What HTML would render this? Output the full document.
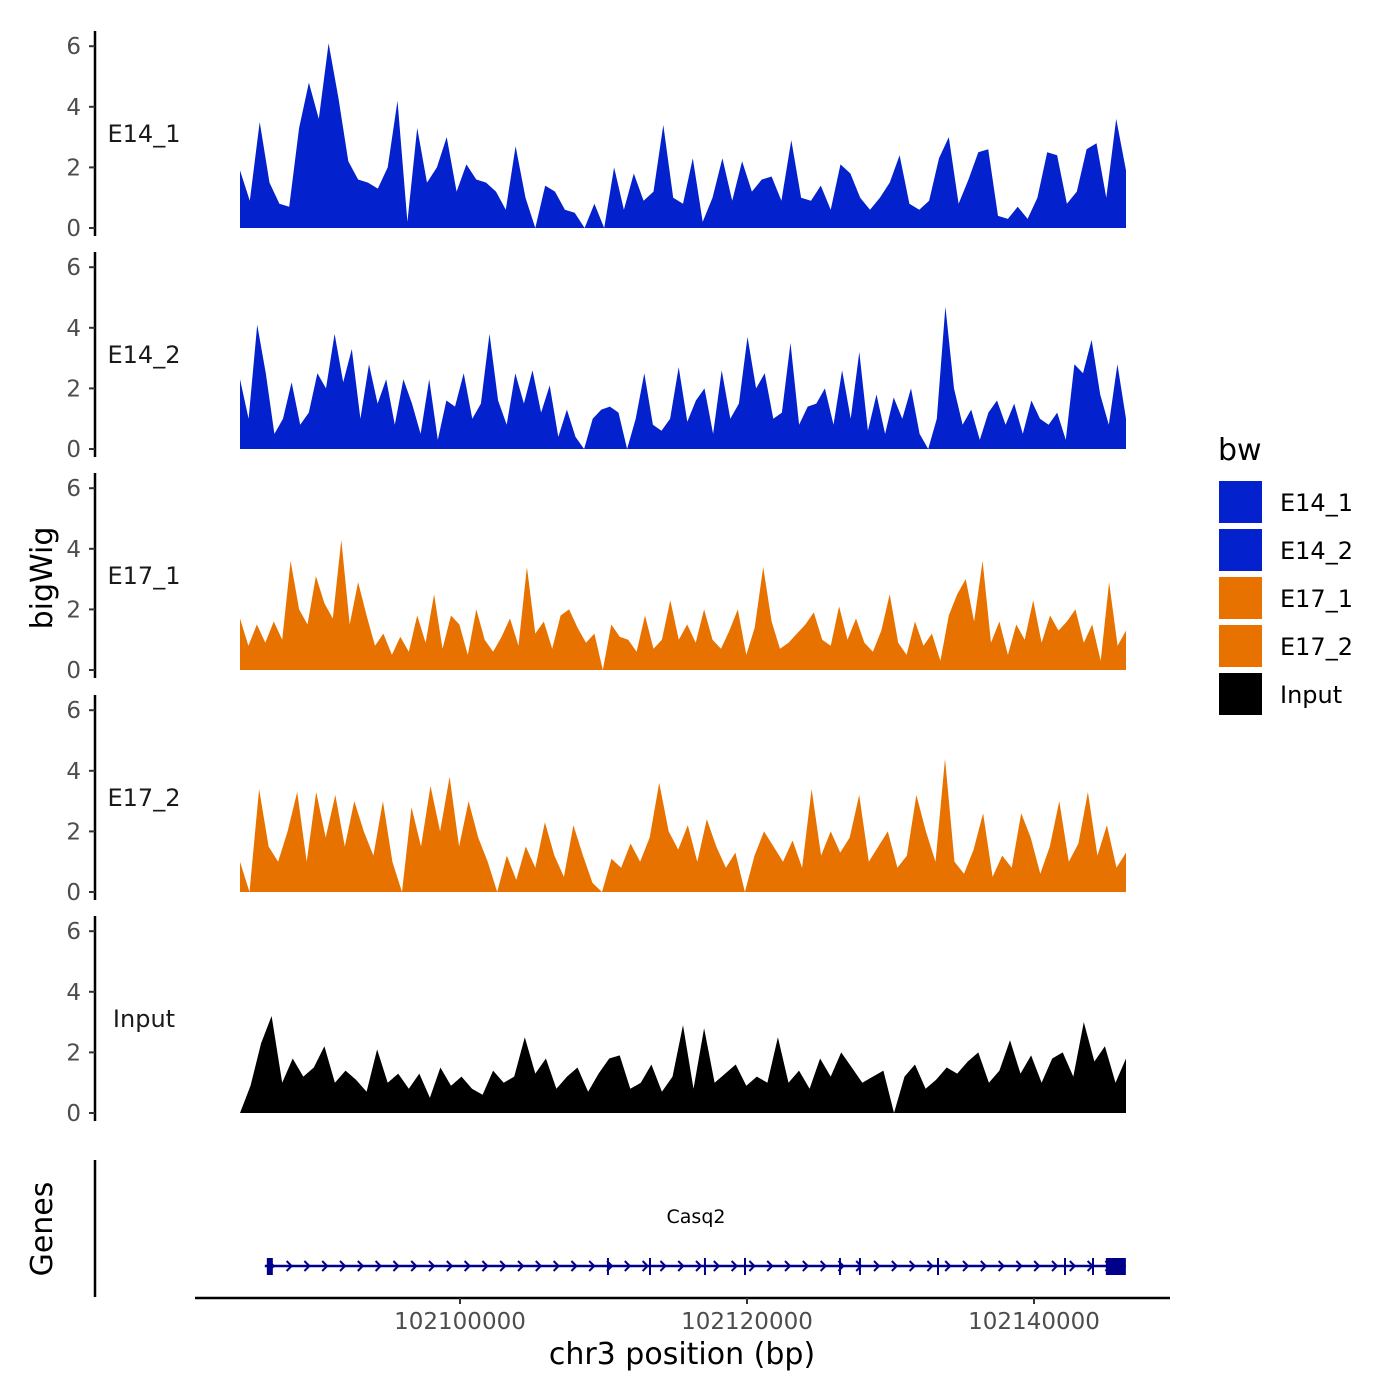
<!DOCTYPE html>
<html><head><meta charset="utf-8">
<style>
html,body{margin:0;padding:0;background:#fff;}
svg{display:block;font-family:"DejaVu Sans","Liberation Sans",sans-serif;}
</style></head>
<body>
<svg id="chart" width="1400" height="1400" viewBox="0 0 1400 1400">
<g id="tracks"></g>
<g id="genes"></g>
<g id="xaxis"></g>
<g id="legend"></g>
</svg>
<script>
const trackNames = ["E14_1","E14_2","E17_1","E17_2","Input"];
const trackColors = ["#0321cc","#0321cc","#e87200","#e87200","#000000"];
const yTicks = [0,2,4,6];
const xTicks = [102100000,102120000,102140000];
const regionStart = 102084670;
const regionEnd = 102146410;
const valsE14_1 = [1.9,0.9,3.5,1.5,0.8,0.7,3.3,4.8,3.6,6.1,4.3,2.2,1.6,1.5,1.3,2.0,4.2,0.2,3.3,1.5,2.0,3.0,1.2,2.1,1.6,1.5,1.2,0.6,2.7,1.0,0.0,1.4,1.2,0.6,0.5,0.0,0.8,0.0,2.0,0.6,1.8,0.9,1.2,3.4,1.0,0.8,2.3,0.2,1.0,2.3,0.9,2.2,1.2,1.6,1.7,0.9,2.9,1.0,0.9,1.4,0.6,2.1,1.8,1.0,0.6,1.0,1.5,2.4,0.8,0.6,0.9,2.3,3.0,0.8,1.6,2.5,2.6,0.4,0.3,0.7,0.3,1.0,2.5,2.4,0.8,1.2,2.6,2.8,1.0,3.6,1.9];
const valsE14_2 = [2.3,1.0,4.1,2.5,0.5,1.0,2.2,0.8,1.2,2.5,2.0,3.8,2.2,3.3,1.0,2.8,1.5,2.3,0.8,2.3,1.5,0.5,2.3,0.3,1.6,1.4,2.5,1.0,1.5,3.8,1.6,0.8,2.5,1.5,2.6,1.2,2.1,0.4,1.3,0.4,0.0,1.0,1.3,1.4,1.2,0.0,1.0,2.5,0.8,0.6,1.0,2.7,0.9,1.6,2.0,0.5,2.6,1.0,1.5,3.7,2.0,2.5,1.0,1.2,3.5,0.8,1.4,1.5,2.0,0.8,2.6,1.0,3.2,0.6,1.8,0.5,1.7,1.0,2.0,0.5,0.0,1.0,4.7,2.0,0.8,1.3,0.3,1.2,1.6,0.8,1.5,0.5,1.6,1.0,0.8,1.2,0.3,2.8,2.5,3.6,1.8,0.8,2.8,1.0];
const valsE17_1 = [1.7,0.8,1.5,0.9,1.6,1.0,3.6,2.0,1.5,3.1,2.2,1.7,4.3,1.5,2.9,1.8,0.8,1.2,0.5,1.1,0.6,1.8,0.9,2.5,0.7,1.8,1.5,0.5,2.0,1.0,0.6,1.1,1.7,0.8,3.4,1.2,1.6,0.7,1.8,2.0,1.4,0.9,1.2,0.0,1.5,1.1,1.0,0.6,1.8,0.7,1.0,2.3,1.0,1.5,0.9,2.0,1.0,0.7,1.3,2.0,0.5,1.4,3.4,1.6,0.7,0.9,1.2,1.5,1.9,1.0,0.8,2.1,1.0,1.7,0.9,0.6,1.3,2.5,0.9,0.5,1.6,0.8,1.2,0.3,1.8,2.5,3.0,1.6,3.6,0.9,1.6,0.5,1.5,1.0,2.3,0.9,1.8,1.3,1.6,2.0,0.9,1.5,0.3,2.9,0.8,1.3];
const valsE17_2 = [1.0,0.0,3.4,1.5,1.0,2.0,3.3,1.0,3.3,1.8,3.2,1.5,3.0,2.0,1.2,3.0,1.0,0.0,2.8,1.5,3.5,2.0,3.8,1.5,3.0,1.8,1.0,0.0,1.2,0.4,1.5,0.8,2.3,1.2,0.5,2.2,1.2,0.3,0.0,1.1,0.8,1.6,1.0,1.8,3.6,2.0,1.4,2.2,1.0,2.4,1.5,0.8,1.3,0.0,1.2,2.0,1.5,1.0,1.7,0.8,3.4,1.2,2.0,1.3,1.8,3.2,1.0,1.5,2.0,0.8,1.2,3.2,2.0,1.0,4.4,1.0,0.6,1.4,2.6,0.5,1.2,0.8,2.6,1.8,0.6,1.5,3.0,1.0,1.6,3.3,1.2,2.2,0.8,1.3];
const valsInput = [0.0,0.9,2.3,3.2,1.0,1.8,1.2,1.5,2.2,1.0,1.4,1.1,0.7,2.1,1.0,1.3,0.8,1.3,0.5,1.5,0.9,1.2,0.8,0.6,1.4,1.0,1.2,2.5,1.3,1.8,0.8,1.2,1.5,0.7,1.3,1.8,1.9,0.8,1.0,1.6,0.7,1.2,2.9,0.8,2.8,1.0,1.3,1.6,0.9,1.2,1.0,2.5,1.0,1.4,0.8,1.8,1.2,2.0,1.5,1.0,1.2,1.4,0.0,1.2,1.6,0.8,1.1,1.5,1.3,1.7,2.0,1.0,1.4,2.4,1.3,1.9,1.0,1.8,2.0,1.2,3.0,1.7,2.2,1.0,1.8];
const exonPositions = [102110310,102113240,102117070,102119860,102126480,102127870,102133310,102142160,102144110];
const geneStart = 102086400, geneEnd = 102146400;

const NS = "http://www.w3.org/2000/svg";
function mk(tag, attrs, parent){const e=document.createElementNS(NS,tag);for(const k in attrs)e.setAttribute(k,attrs[k]);parent.appendChild(e);return e;}
function xScale(bp){return 240 + (bp - regionStart) * (886/(regionEnd-regionStart));}
const zeroY = [228,449,670,892,1113];
const pxPerUnit = 30.3;
function yScale(t,v){return zeroY[t] - v*pxPerUnit;}

const allVals = [valsE14_1,valsE14_2,valsE17_1,valsE17_2,valsInput];
const tracksG = document.getElementById('tracks');
for(let t=0;t<5;t++){
  const g = mk('g',{},tracksG);
  
  
  const ax = mk('line',{x1:95,x2:95,y1:zeroY[t]-197,y2:zeroY[t]+8,stroke:'#000','stroke-width':2.5},g);
  
  
  yTicks.forEach(v=>{
    const y=yScale(t,v);
    const tk = mk('line',{x1:89,x2:95,y1:y,y2:y,stroke:'#333','stroke-width':2},g);
    
    
    const lb = mk('text',{x:81,y:y+8,'text-anchor':'end','font-size':23,fill:'#4d4d4d'},g);
    lb.textContent=v;
    
    
  });
  const nm = mk('text',{x:144,y:yScale(t,3.1)+8,'text-anchor':'middle','font-size':24,fill:'#1a1a1a'},g);
  nm.textContent=trackNames[t];
  
  
  const vals = allVals[t];
  const n = vals.length;
  let d = 'M'+xScale(regionStart)+','+zeroY[t];
  vals.forEach((v,i)=>{
    const bp = regionStart + i*(regionEnd-regionStart)/(n-1);
    d += ' L'+xScale(bp).toFixed(1)+','+yScale(t,v).toFixed(1);
  });
  d += ' L'+xScale(regionEnd)+','+zeroY[t]+' Z';
  const area = mk('path',{d:d,fill:trackColors[t]},g);
  
  
}
const yt = mk('text',{x:0,y:0,transform:'translate(52,578) rotate(-90)','text-anchor':'middle','font-size':30,fill:'#000'},tracksG);
yt.textContent='bigWig';



const gg = document.getElementById('genes');
const gax = mk('line',{x1:95,x2:95,y1:1160,y2:1297,stroke:'#000','stroke-width':2.5},gg);


const gt = mk('text',{x:0,y:0,transform:'translate(52,1229) rotate(-90)','text-anchor':'middle','font-size':30,fill:'#000'},gg);
gt.textContent='Genes';


const gl = mk('line',{x1:xScale(geneStart),x2:xScale(geneEnd),y1:1266,y2:1266,stroke:'#00008b','stroke-width':2.5},gg);


let cd='';
for(let x=xScale(geneStart)+4;x<xScale(geneEnd)-12;x+=17.8){cd+=`M${x.toFixed(1)},1261 L${(x+5).toFixed(1)},1266 L${x.toFixed(1)},1271 `;}
const ch = mk('path',{d:cd,stroke:'#00008b','stroke-width':2,fill:'none'},gg);


exonPositions.forEach(bp=>{
  const e = mk('line',{x1:xScale(bp),x2:xScale(bp),y1:1258,y2:1275,stroke:'#00008b','stroke-width':2},gg);
  
  
});
const ex1 = mk('rect',{x:xScale(geneStart)+2,y:1258,width:6,height:17,fill:'#00008b'},gg);


const ex2 = mk('rect',{x:xScale(geneEnd)-20,y:1258,width:20,height:17,fill:'#00008b'},gg);


const gn = mk('text',{x:696,y:1223,'text-anchor':'middle','font-size':19,fill:'#000'},gg);
gn.textContent='Casq2';



const xg = document.getElementById('xaxis');
const xl = mk('line',{x1:195,x2:1170,y1:1298,y2:1298,stroke:'#000','stroke-width':2.5},xg);


xTicks.forEach(bp=>{
  const x=xScale(bp);
  const tk=mk('line',{x1:x,x2:x,y1:1298,y2:1304,stroke:'#333','stroke-width':2},xg);
  
  
  const lb=mk('text',{x:x,y:1329,'text-anchor':'middle','font-size':23,fill:'#4d4d4d'},xg);
  lb.textContent=bp;
  
  
});
const xt=mk('text',{x:682,y:1364,'text-anchor':'middle','font-size':30,fill:'#000'},xg);
xt.textContent='chr3 position (bp)';



const lg=document.getElementById('legend');
const lt=mk('text',{x:1218,y:460,'font-size':30,fill:'#000'},lg);
lt.textContent='bw';


trackNames.forEach((nmv,i)=>{
  const y=481+i*48;
  const r=mk('rect',{x:1219,y:y,width:43,height:42,fill:trackColors[i]},lg);
  
  
  const tx=mk('text',{x:1280,y:y+30,'font-size':24,fill:'#000'},lg);
  tx.textContent=nmv;
  
  
});
</script>
</body></html>
